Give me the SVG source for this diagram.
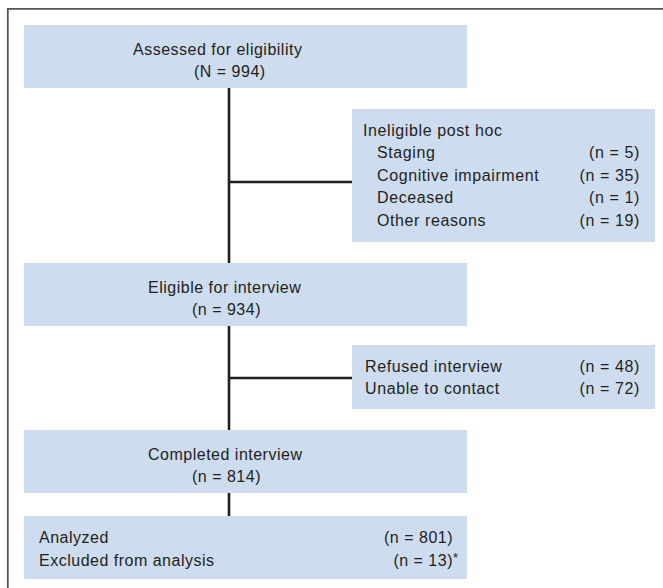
<svg xmlns="http://www.w3.org/2000/svg" width="663" height="588" viewBox="0 0 663 588">
<style>
.box{fill:#cddcee;}
.main{font-family:"Liberation Sans",Arial,sans-serif;font-size:16px;letter-spacing:0.5px;fill:#231f20;}
.side{font-family:"Liberation Sans",Arial,sans-serif;font-size:16px;letter-spacing:0.6px;fill:#231f20;}
.end{text-anchor:end;}
.conn{stroke:#231f20;stroke-width:2.6;fill:none;}
</style>
<rect width="663" height="588" fill="#ffffff"/>
<path d="M7.8,588 V8.8 H663" fill="none" stroke="#555555" stroke-width="1.8"/>
<g id="connectors">
<line class="conn" x1="229" y1="88" x2="229" y2="516"/>
<line class="conn" x1="229" y1="182" x2="352" y2="182"/>
<line class="conn" x1="229" y1="378" x2="352" y2="378"/>
</g>
<g id="assessed">
<rect class="box" x="24" y="25" width="443" height="63"/>
<text class="main" x="133" y="54.5">Assessed for eligibility</text>
<text class="main" x="194" y="76.5">(N = 994)</text>
</g>
<g id="ineligible">
<rect class="box" x="352" y="109" width="303" height="133"/>
<text class="side" x="363" y="135.5">Ineligible post hoc</text>
<text class="side" x="377" y="158">Staging</text>
<text class="side end" x="640" y="158">(n = 5)</text>
<text class="side" x="377" y="180.5">Cognitive impairment</text>
<text class="side end" x="640" y="180.5">(n = 35)</text>
<text class="side" x="377" y="203">Deceased</text>
<text class="side end" x="640" y="203">(n = 1)</text>
<text class="side" x="377" y="225.5">Other reasons</text>
<text class="side end" x="640" y="225.5">(n = 19)</text>
</g>
<g id="eligible">
<rect class="box" x="24" y="263" width="443" height="63"/>
<text class="main" x="148" y="292.5">Eligible for interview</text>
<text class="main" x="192" y="314.5">(n = 934)</text>
</g>
<g id="refused">
<rect class="box" x="352" y="345" width="303" height="64"/>
<text class="side" x="365" y="371.5">Refused interview</text>
<text class="side end" x="640" y="371.5">(n = 48)</text>
<text class="side" x="365" y="394">Unable to contact</text>
<text class="side end" x="640" y="394">(n = 72)</text>
</g>
<g id="completed">
<rect class="box" x="24" y="430" width="443" height="63"/>
<text class="main" x="148" y="459.5">Completed interview</text>
<text class="main" x="192" y="481.5">(n = 814)</text>
</g>
<g id="analyzed">
<rect class="box" x="24" y="516" width="443" height="63"/>
<text class="main" x="39" y="542.5">Analyzed</text>
<text class="main end" x="453" y="542.5">(n = 801)</text>
<text class="main" x="39" y="565.5">Excluded from analysis</text>
<text class="main end" x="453" y="565.5">(n = 13)</text>
<text class="main" x="453" y="562" style="font-size:13px">*</text>
</g>
</svg>
